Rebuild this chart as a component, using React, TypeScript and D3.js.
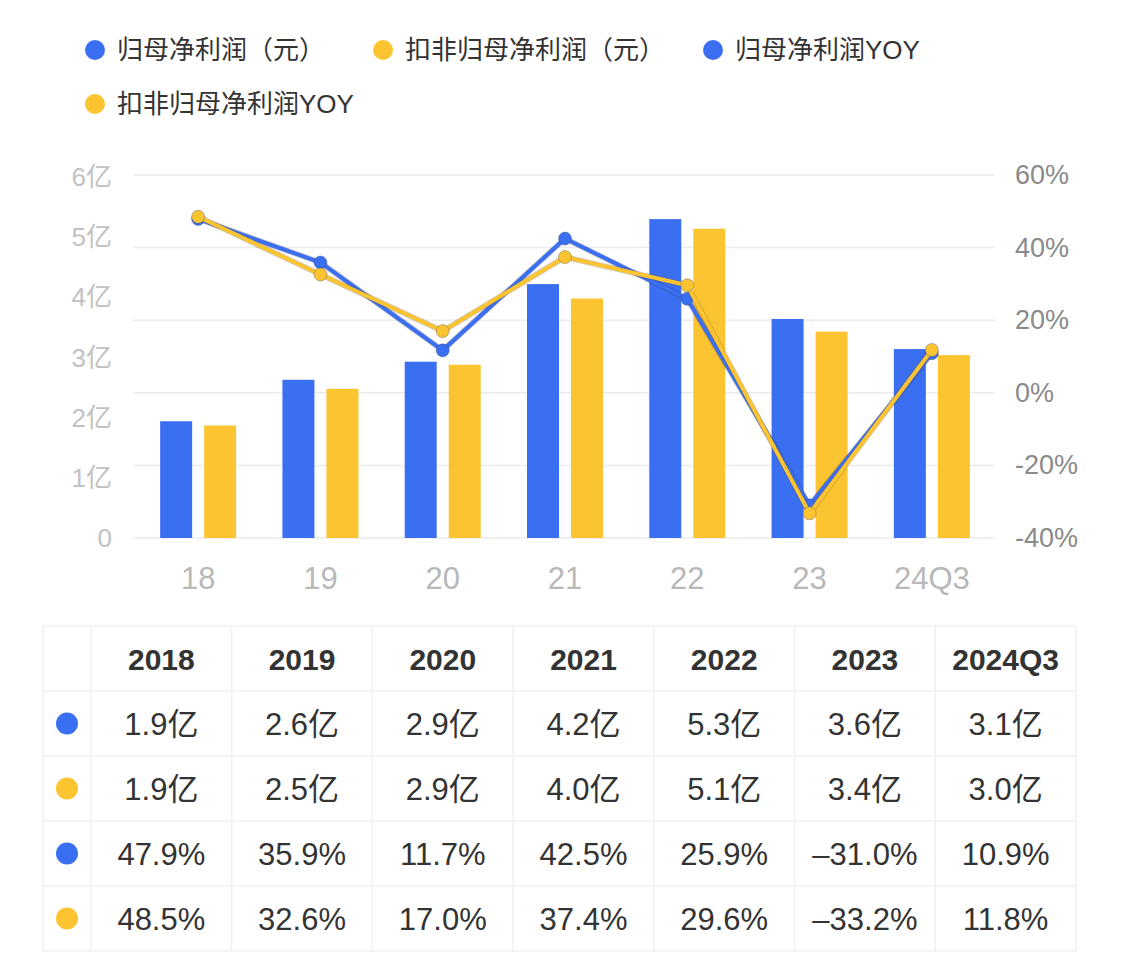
import React from "react";
import * as d3 from "d3";

const categories = ["18", "19", "20", "21", "22", "23", "24Q3"];
const years = ["2018", "2019", "2020", "2021", "2022", "2023", "2024Q3"];
const netProfit = [1.94, 2.63, 2.93, 4.22, 5.3, 3.64, 3.14];
const deductedProfit = [1.87, 2.48, 2.88, 3.98, 5.14, 3.43, 3.04];
const netProfitYoy = [47.9, 35.9, 11.7, 42.5, 25.9, -31.0, 10.9];
const deductedYoy = [48.5, 32.6, 17.0, 37.4, 29.6, -33.2, 11.8];
const leftTicks = [0, 1, 2, 3, 4, 5, 6];
const rightTicks = [-40, -20, 0, 20, 40, 60];
const legendLabels = ["归母净利润（元）", "扣非归母净利润（元）", "归母净利润YOY", "扣非归母净利润YOY"];

const BLUE = "#3b6ff2";
const YELLOW = "#fcc431";
const FONT = "'Liberation Sans', 'Noto Sans CJK SC', sans-serif";

const W = 1123;
const H = 954;

export default function App() {
  const x = d3.scaleBand<string>().domain(categories).range([137, 993]).padding(0);
  const sub = d3.scaleBand<string>().domain(["a", "b"]).range([-38, 38]).paddingInner(0.273).paddingOuter(0);
  const yL = d3.scaleLinear().domain([0, 6]).range([538, 177]);
  const yR = d3.scaleLinear().domain([-40, 60]).range([538, 175]);
  const cx = (c: string) => (x(c) as number) + x.bandwidth() / 2;

  const line = d3
    .line<number>()
    .x((_, i) => cx(categories[i]))
    .y((d) => yR(d));

  const legendPos = [
    { x: 95, y: 50 },
    { x: 383, y: 50 },
    { x: 713, y: 50 },
    { x: 95, y: 104 },
  ];
  const legendColors = [BLUE, YELLOW, BLUE, YELLOW];

  // table
  const colX = d3.scaleBand<string>().domain(years).range([91, 1076]);
  const rowKeys = ["h", "r1", "r2", "r3", "r4"];
  const rowY = d3.scaleBand<string>().domain(rowKeys).range([626, 951]);
  const fmtYi = (v: number) => v.toFixed(1) + "亿";
  const fmtPct = (v: number) => (v < 0 ? "–" + Math.abs(v).toFixed(1) : v.toFixed(1)) + "%";
  const rows = [
    { color: BLUE, cells: netProfit.map(fmtYi) },
    { color: YELLOW, cells: deductedProfit.map(fmtYi) },
    { color: BLUE, cells: netProfitYoy.map(fmtPct) },
    { color: YELLOW, cells: deductedYoy.map(fmtPct) },
  ];
  const tableLeft = 43;
  const tableRight = 1076;

  const renderSeriesPoints = (vals: number[], color: string) =>
    vals.map((v, i) => (
      <circle
        key={i}
        cx={cx(categories[i])}
        cy={yR(v)}
        r={6.5}
        fill={color}
        stroke="rgba(60,60,80,0.35)"
        strokeWidth={1}
      />
    ));

  return (
    <svg
      width={W}
      height={H}
      style={{ position: "absolute", left: 0, top: 0, background: "#fff", fontFamily: FONT }}
    >
      <rect x={0} y={0} width={W} height={H} fill="#fff" />

      {/* legend */}
      {legendLabels.map((l, i) => (
        <g key={l}>
          <circle cx={legendPos[i].x} cy={legendPos[i].y} r={10} fill={legendColors[i]} />
          <text x={legendPos[i].x + 22} y={legendPos[i].y + 9} fontSize={26} fill="#333">
            {l}
          </text>
        </g>
      ))}

      {/* gridlines */}
      {rightTicks.map((t) => (
        <line key={t} x1={133} x2={995} y1={yR(t)} y2={yR(t)} stroke="#ebebeb" strokeWidth={1.5} />
      ))}

      {/* left axis labels */}
      {leftTicks.map((t) => (
        <text key={t} x={112} y={yL(t) + 9} textAnchor="end" fontSize={26} fill="#c2c2c2">
          {t === 0 ? "0" : t + "亿"}
        </text>
      ))}

      {/* right axis labels */}
      {rightTicks.map((t) => (
        <text key={t} x={1015} y={yR(t) + 9} textAnchor="start" fontSize={27} fill="#8a8a8a">
          {t + "%"}
        </text>
      ))}

      {/* x labels */}
      {categories.map((c) => (
        <text key={c} x={cx(c)} y={589} textAnchor="middle" fontSize={31} fill="#b8b8b8">
          {c}
        </text>
      ))}

      {/* bars */}
      {categories.map((c, i) => (
        <g key={c}>
          <rect
            x={cx(c) + (sub("a") as number)}
            y={yL(netProfit[i])}
            width={sub.bandwidth()}
            height={yL(0) - yL(netProfit[i])}
            fill={BLUE}
          />
          <rect
            x={cx(c) + (sub("b") as number)}
            y={yL(deductedProfit[i])}
            width={sub.bandwidth()}
            height={yL(0) - yL(deductedProfit[i])}
            fill={YELLOW}
          />
        </g>
      ))}

      {/* lines */}
      <path d={line(netProfitYoy) || ""} fill="none" stroke="rgba(40,40,70,0.3)" strokeWidth={5.5} />
      <path d={line(netProfitYoy) || ""} fill="none" stroke={BLUE} strokeWidth={4} />
      {renderSeriesPoints(netProfitYoy, BLUE)}
      <path d={line(deductedYoy) || ""} fill="none" stroke="rgba(90,70,30,0.3)" strokeWidth={5.5} />
      <path d={line(deductedYoy) || ""} fill="none" stroke={YELLOW} strokeWidth={4} />
      {renderSeriesPoints(deductedYoy, YELLOW)}

      {/* table grid */}
      {[...rowKeys.map((k) => rowY(k) as number), rowY.range()[1]].map((yy, i) => (
        <line key={"h" + i} x1={tableLeft} x2={tableRight} y1={yy} y2={yy} stroke="#f0f0f0" strokeWidth={1.5} />
      ))}
      {[tableLeft, ...years.map((y) => colX(y) as number), tableRight].map((xx, i) => (
        <line key={"v" + i} x1={xx} x2={xx} y1={rowY.range()[0]} y2={rowY.range()[1]} stroke="#f0f0f0" strokeWidth={1.5} />
      ))}

      {/* table header */}
      {years.map((y) => (
        <text
          key={y}
          x={(colX(y) as number) + colX.bandwidth() / 2}
          y={(rowY("h") as number) + rowY.bandwidth() / 2 + 11}
          textAnchor="middle"
          fontSize={30}
          fontWeight={600}
          fill="#333"
        >
          {y}
        </text>
      ))}

      {/* table rows */}
      {rows.map((r, ri) => {
        const ry = (rowY(rowKeys[ri + 1]) as number) + rowY.bandwidth() / 2;
        return (
          <g key={ri}>
            <circle cx={67} cy={ry} r={11} fill={r.color} />
            {r.cells.map((c, ci) => (
              <text
                key={ci}
                x={(colX(years[ci]) as number) + colX.bandwidth() / 2}
                y={ry + 11}
                textAnchor="middle"
                fontSize={31}
                fill="#333"
              >
                {c}
              </text>
            ))}
          </g>
        );
      })}
    </svg>
  );
}
